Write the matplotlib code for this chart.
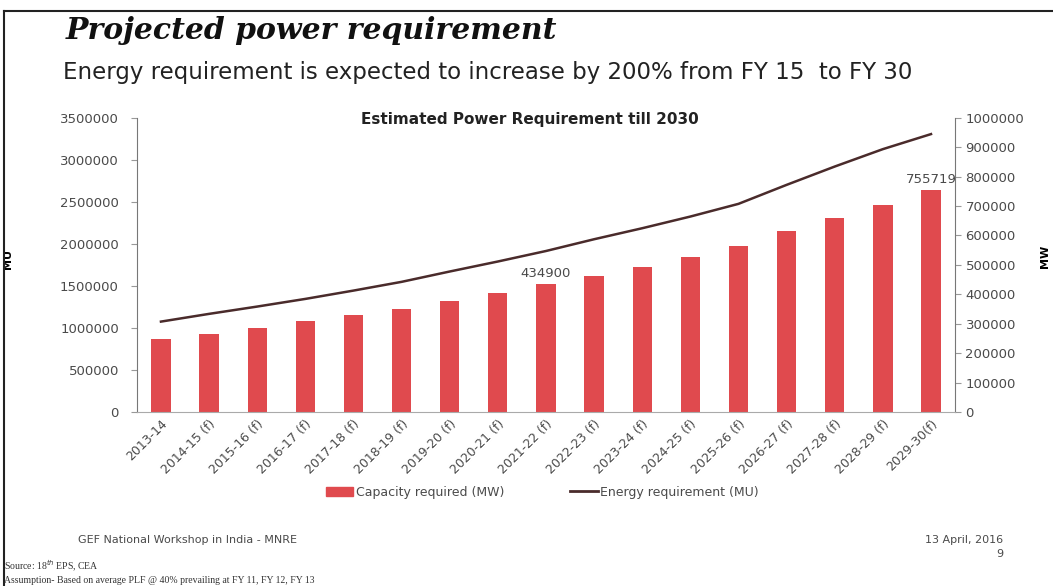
import numpy as np
import matplotlib.pyplot as plt
from matplotlib.patches import Patch
from matplotlib.lines import Line2D
from matplotlib.ticker import FuncFormatter

# Dados do gráfico
anos = ['2013-14', '2014-15 (f)', '2015-16 (f)', '2016-17 (f)', '2017-18 (f)',
        '2018-19 (f)', '2019-20 (f)', '2020-21 (f)', '2021-22 (f)', '2022-23 (f)',
        '2023-24 (f)', '2024-25 (f)', '2025-26 (f)', '2026-27 (f)', '2027-28 (f)',
        '2028-29 (f)', '2029-30(f)']
capacidade_mw = [248000, 264000, 286000, 308000, 331000, 351000, 378000, 404000,
                 434900, 462000, 494000, 528000, 565000, 616000, 659000, 703000, 755719]
energia_mu = [1075000, 1167000, 1254000, 1345000, 1444000, 1548000, 1671000, 1790000,
              1915000, 2055000, 2186000, 2325000, 2476000, 2702000, 2920000, 3127000, 3306000]
rotulos_barras = {8: '434900', 16: '755719'}

cor_barra = '#e04a4e'
cor_linha = '#4a2b2b'
cor_texto = '#4a4a4a'

fig = plt.figure(figsize=(10.53, 5.86), dpi=100)
ax = fig.add_axes([0.130, 0.297, 0.777, 0.502])
ax2 = ax.twinx()

x = np.arange(len(anos))
simples = FuncFormatter(lambda v, p: f'{int(round(v))}')

# Linha de energia (eixo esquerdo)
ax.plot(x, energia_mu, color=cor_linha, linewidth=1.8, zorder=3)
ax.set_ylim(0, 3500000)
ax.set_yticks(np.arange(0, 3500001, 500000))
ax.yaxis.set_major_formatter(simples)
ax.set_ylabel('MU', fontsize=8, fontweight='bold')
ax.yaxis.set_label_coords(-0.152, 0.52)

# Barras de capacidade (eixo direito)
ax2.bar(x, capacidade_mw, width=0.4, color=cor_barra, zorder=2)
ax2.set_ylim(0, 1000000)
ax2.set_yticks(np.arange(0, 1000001, 100000))
ax2.yaxis.set_major_formatter(simples)
ax2.set_ylabel('MW', fontsize=8, fontweight='bold')
ax2.yaxis.set_label_coords(1.104, 0.53)
for i, txt in rotulos_barras.items():
    ax2.text(x[i], capacidade_mw[i] + 12000, txt, ha='center', va='bottom',
             fontsize=9.5, color=cor_texto)

# linha na frente das barras
ax.set_zorder(ax2.get_zorder() + 1)
ax.patch.set_visible(False)

ax.set_xlim(-0.5, len(anos) - 0.5)
ax.set_xticks(x)
ax.set_xticklabels(anos, rotation=45, ha='right', rotation_mode='anchor',
                   fontsize=9, color=cor_texto)

for a in (ax, ax2):
    a.tick_params(axis='y', labelsize=9.5, labelcolor=cor_texto, colors='#999999',
                  length=4)
    for s in a.spines.values():
        s.set_visible(False)
ax.tick_params(axis='y', pad=9)
ax.tick_params(axis='x', length=0, pad=4)
for lab in ax.get_yticklabels() + ax2.get_yticklabels():
    lab.set_color(cor_texto)
ax.spines['left'].set_visible(True)
ax.spines['left'].set_color('#777777')
ax.spines['bottom'].set_visible(True)
ax.spines['bottom'].set_color('#aaaaaa')
ax2.spines['right'].set_visible(True)
ax2.spines['right'].set_color('#777777')

ax.set_title('Estimated Power Requirement till 2030', fontsize=11, fontweight='bold',
             y=0.95, x=0.48, color='#222222')

# Legenda
handles = [Patch(color=cor_barra), Line2D([], [], color=cor_linha, linewidth=2)]
fig.legend(handles, ['Capacity required (MW)', 'Energy requirement (MU)'],
           loc='center', bbox_to_anchor=(0.515, 0.16), ncol=2, frameon=False,
           fontsize=9, handlelength=2.2, handletextpad=0.2, columnspacing=5.3,
           labelcolor=cor_texto)

# Textos do slide
fig.text(0.062, 0.948, 'Projected power requirement', fontsize=21.5, fontweight='bold',
         fontstyle='italic', family='DejaVu Serif', va='center', color='#111111')
fig.text(0.060, 0.877, 'Energy requirement is expected to increase by 200% from FY 15  to FY 30',
         fontsize=16.5, va='center', color='#222222')
fig.text(0.074, 0.078, 'GEF National Workshop in India - MNRE', fontsize=8,
         va='center', color=cor_texto)
fig.text(0.953, 0.078, '13 April, 2016', fontsize=8, ha='right', va='center',
         color=cor_texto)
fig.text(0.953, 0.055, '9', fontsize=8, ha='right', va='center', color=cor_texto)
fig.text(0.004, 0.033, 'Source: 18$^{th}$ EPS, CEA', fontsize=7, family='Liberation Serif',
         va='center', color='#333333')
fig.text(0.004, 0.010, 'Assumption- Based on average PLF @ 40% prevailing at FY 11, FY 12, FY 13',
         fontsize=7, family='Liberation Serif', va='center', color='#333333')

# Moldura do slide
fig.add_artist(Line2D([0.004, 0.004], [0.0, 0.981], color='#222222', linewidth=1.5))
fig.add_artist(Line2D([0.004, 1.0], [0.981, 0.981], color='#222222', linewidth=1.5))

plt.savefig('out.png', dpi=100)
